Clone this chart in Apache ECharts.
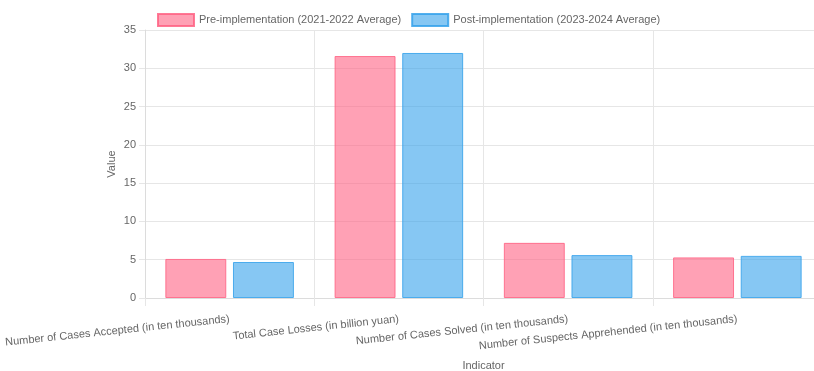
<!DOCTYPE html>
<html>
<head>
<meta charset="utf-8">
<script src="https://cdn.jsdelivr.net/npm/echarts@6/dist/echarts.min.js"></script>
<style>
  html, body { margin: 0; padding: 0; background: #fff; }
  #chart { width: 814px; height: 371px; }
</style>
</head>
<body>
<div id="chart"></div>
<script>
// Indicators compared before and after implementation
const categories = [
  'Number of Cases Accepted (in ten thousands)',
  'Total Case Losses (in billion yuan)',
  'Number of Cases Solved (in ten thousands)',
  'Number of Suspects Apprehended (in ten thousands)'
];
const preName = 'Pre-implementation (2021-2022 Average)';
const postName = 'Post-implementation (2023-2024 Average)';
const preValues = [5.1, 31.6, 7.2, 5.3];
const postValues = [4.7, 32.0, 5.6, 5.5];
const yTicks = [0, 5, 10, 15, 20, 25, 30, 35];

const font = 'Liberation Sans, Arial, Helvetica, sans-serif';
const textGray = '#666';
const gridGray = '#e6e6e6';

const chart = echarts.init(document.getElementById('chart'), null, { renderer: 'canvas' });

chart.setOption({
  animation: false,
  textStyle: { fontFamily: font },
  legend: {
    top: 8,
    left: 152,
    icon: 'rect',
    itemWidth: 36,
    itemHeight: 12,
    itemGap: 10,
    textStyle: { fontSize: 11, color: textGray, fontFamily: font },
    data: [preName, postName]
  },
  grid: {
    left: 145,
    top: 30,
    width: 677,
    height: 268,
    containLabel: false,
    outerBoundsMode: 'none'
  },
  xAxis: {
    type: 'category',
    data: categories,
    boundaryGap: true,
    name: 'Indicator',
    nameLocation: 'middle',
    nameGap: 62,
    nameMoveOverlap: false,
    nameTextStyle: { fontSize: 11, color: textGray, fontFamily: font },
    axisLine: { show: true, lineStyle: { color: '#dcdcdc', width: 1 } },
    axisTick: { show: true, length: 8, lineStyle: { color: gridGray } },
    splitLine: { show: true, lineStyle: { color: gridGray, width: 1 } },
    axisLabel: {
      rotate: 6,
      margin: 21,
      interval: 0,
      fontSize: 11,
      color: textGray,
      fontFamily: font
    }
  },
  yAxis: {
    type: 'value',
    min: yTicks[0],
    max: yTicks[yTicks.length - 1],
    interval: 5,
    name: 'Value',
    nameLocation: 'middle',
    nameGap: 28,
    nameMoveOverlap: false,
    nameTextStyle: { fontSize: 11, color: textGray, fontFamily: font },
    axisLine: { show: true, lineStyle: { color: '#dcdcdc', width: 1 } },
    axisTick: { show: true, length: 6, lineStyle: { color: gridGray } },
    splitLine: { show: true, lineStyle: { color: gridGray, width: 1 } },
    axisLabel: {
      margin: 9,
      fontSize: 11,
      color: textGray,
      fontFamily: font,
      customValues: yTicks
    }
  },
  series: [
    {
      name: preName,
      type: 'bar',
      data: preValues,
      barWidth: '36%',
      barGap: '11%',
      itemStyle: {
        color: 'rgba(255, 99, 132, 0.6)',
        borderColor: 'rgba(255, 99, 132, 0.85)',
        borderWidth: 1
      }
    },
    {
      name: postName,
      type: 'bar',
      data: postValues,
      barWidth: '36%',
      barGap: '11%',
      itemStyle: {
        color: 'rgba(54, 162, 235, 0.6)',
        borderColor: 'rgba(54, 162, 235, 0.85)',
        borderWidth: 1
      }
    }
  ]
});
</script>
</body>
</html>
